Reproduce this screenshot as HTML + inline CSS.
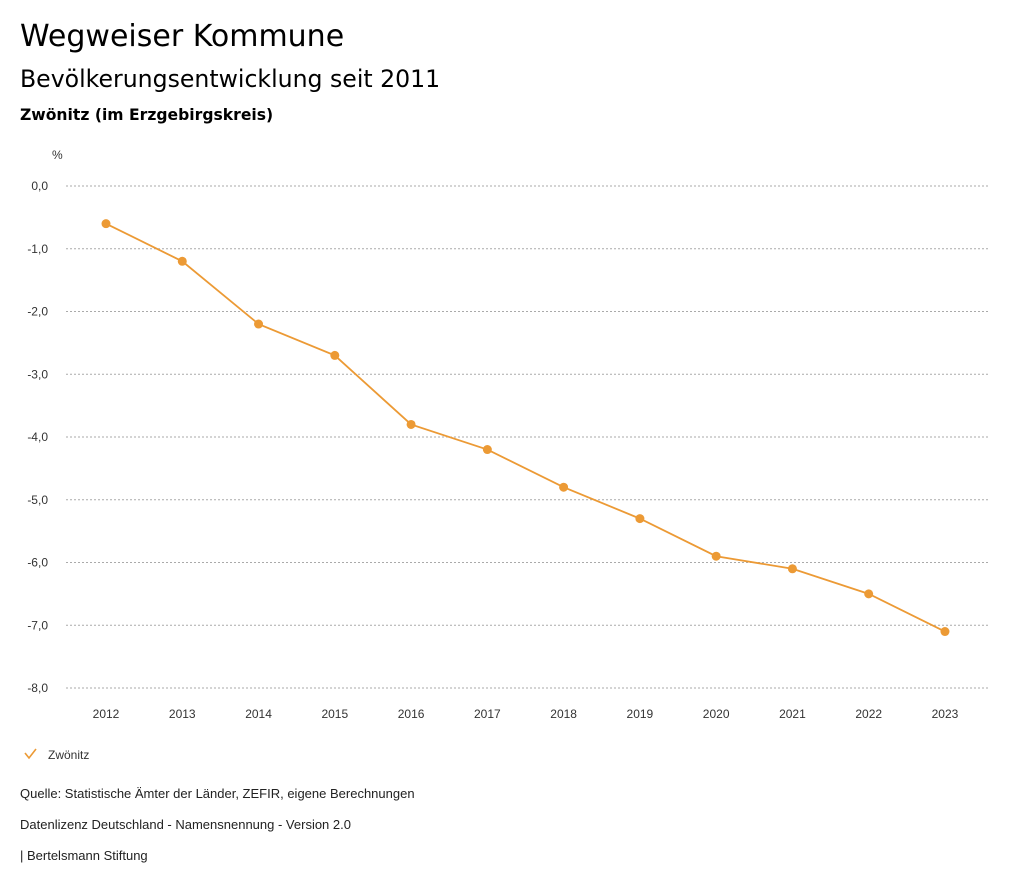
<!DOCTYPE html>
<html><head><meta charset="utf-8">
<style>
body{margin:0;background:#fff;width:1024px;height:888px;overflow:hidden;font-family:"Liberation Sans","DejaVu Sans",sans-serif;}
.t{position:absolute;left:20px;color:#000;white-space:nowrap;}
</style></head><body>
<div class="t" style="top:19px;font-size:30px;font-family:'DejaVu Sans',sans-serif;">Wegweiser Kommune</div>
<div class="t" style="top:65px;font-size:23.6px;font-family:'DejaVu Sans',sans-serif;">Bevölkerungsentwicklung seit 2011</div>
<div class="t" style="top:106px;font-size:15.6px;font-weight:bold;font-family:'DejaVu Sans',sans-serif;">Zwönitz (im Erzgebirgskreis)</div>
<svg id="chart" width="1024" height="888" style="position:absolute;left:0;top:0" font-family="Liberation Sans, sans-serif">
<text x="52" y="159" font-size="12" fill="#333">%</text>
<g id="grid"></g><g id="xt"></g><g id="series"></g>
<g>
<polyline points="25,753 29,758 36,749" fill="none" stroke="#ec9a35" stroke-width="1.6"/>
<text x="48" y="759" font-size="12" fill="#333">Zwönitz</text></g>
<text x="20" y="798" font-size="13" fill="#222">Quelle: Statistische Ämter der Länder, ZEFIR, eigene Berechnungen</text>
<text x="20" y="829" font-size="13" fill="#222">Datenlizenz Deutschland - Namensnennung - Version 2.0</text>
<text x="20" y="860" font-size="13" fill="#222">| Bertelsmann Stiftung</text>
</svg>
<script>
const years=[2012,2013,2014,2015,2016,2017,2018,2019,2020,2021,2022,2023];
const values=[-0.6,-1.2,-2.2,-2.7,-3.8,-4.2,-4.8,-5.3,-5.9,-6.1,-6.5,-7.1];
const yTicks=[0,-1,-2,-3,-4,-5,-6,-7,-8];
const NS="http://www.w3.org/2000/svg";
const y=v=>186+(-v)*62.75;
const x=i=>106+i*76.27;
const mk=(t,a,p)=>{const e=document.createElementNS(NS,t);for(const k in a)e.setAttribute(k,a[k]);p.appendChild(e);return e;};
const grid=document.getElementById('grid');
yTicks.forEach(v=>{
const l=mk('line',{x1:66,x2:990,y1:y(v),y2:y(v),stroke:'#aaa','stroke-dasharray':'2,2','stroke-width':1},grid);


const t=mk('text',{x:48,y:y(v)+4,'font-size':12,fill:'#333','text-anchor':'end'},grid);
t.textContent=v.toFixed(1).replace('.',',');


});
const xt=document.getElementById('xt');
years.forEach((yr,i)=>{
const t=mk('text',{x:x(i),y:718,'font-size':12,fill:'#333','text-anchor':'middle'},xt);
t.textContent=yr;


});
const s=document.getElementById('series');
const pl=mk('polyline',{points:values.map((v,i)=>x(i)+','+y(v)).join(' '),fill:'none',stroke:'#ec9a35','stroke-width':1.8},s);


values.forEach((v,i)=>{
const c=mk('circle',{cx:x(i),cy:y(v),r:4.5,fill:'#ec9a35'},s);


});
</script>
</body></html>
